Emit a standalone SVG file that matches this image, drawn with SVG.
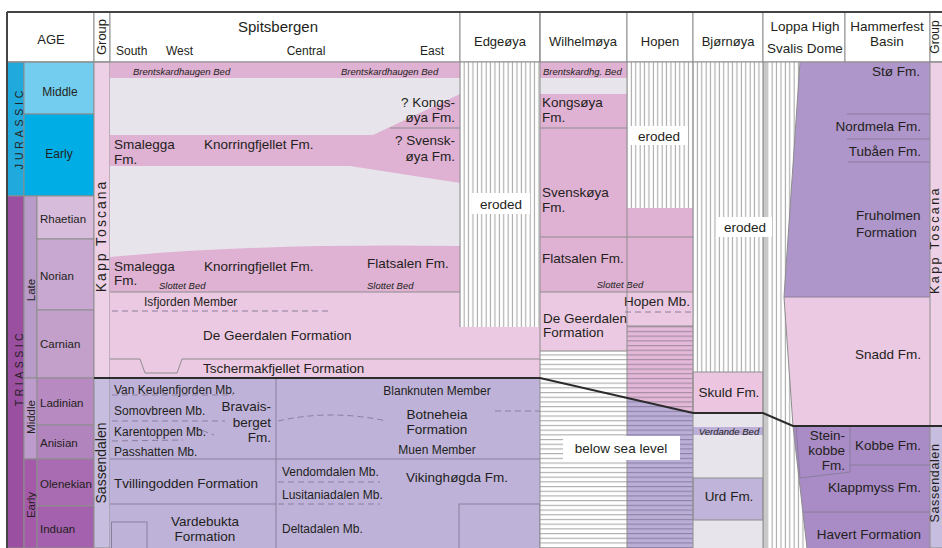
<svg xmlns="http://www.w3.org/2000/svg" width="942" height="548" viewBox="0 0 942 548">
<defs>
<style>
text{font-family:"Liberation Sans",Arial,sans-serif;fill:#231f20}
.f{font-size:13.5px}
.s{font-size:12px}
.st{font-size:11.5px}
.h{font-size:13px}
.i{font-size:9.5px;font-style:italic}
.c{text-anchor:middle}
.r{text-anchor:end}
.ln{stroke:#8d8d8d;stroke-width:1;fill:none}
.pl{stroke:#8a7e9e;stroke-width:1;fill:none}
.ds{stroke:#8a7e9e;stroke-width:1;stroke-dasharray:6 4;fill:none}
.cell{stroke:#8d8d8d;stroke-width:1}
.per{font-size:10.5px;text-anchor:middle}
</style>
<pattern id="vh" patternUnits="userSpaceOnUse" width="4.4" height="10"><rect width="4.4" height="10" fill="#fff"/><rect x="1.6" width="1.1" height="10" fill="#a9a9a9"/></pattern>
<pattern id="hh" patternUnits="userSpaceOnUse" width="10" height="4.7"><rect width="10" height="4.7" fill="#fff"/><rect y="2" width="10" height="1" fill="#a3a3a3"/></pattern>
<pattern id="hp" patternUnits="userSpaceOnUse" width="10" height="4.7"><rect width="10" height="4.7" fill="#e3b8d8"/><rect y="2" width="10" height="1" fill="#9c879c"/></pattern>
<pattern id="hl" patternUnits="userSpaceOnUse" width="10" height="4.7"><rect width="10" height="4.7" fill="#bbafd8"/><rect y="2" width="10" height="1" fill="#867c9e"/></pattern>
</defs>
<rect width="942" height="548" fill="#fff"/>

<g id="age">
<rect x="7" y="12" width="87" height="50" fill="#fff" class="cell"/>
<text x="51" y="44" class="h c">AGE</text>
<rect x="7" y="62" width="17" height="134" fill="#1fa9dd" class="cell"/>
<rect x="24" y="62" width="70" height="52" fill="#72cdee" class="cell"/>
<rect x="24" y="114" width="70" height="82" fill="#00ade4" class="cell"/>
<text x="60" y="96" class="s c">Middle</text>
<text x="59" y="158" class="s c">Early</text>
<text transform="translate(22.5,128) rotate(-90)" class="per" letter-spacing="3.8" fill="#1d3d63">JURASSIC</text>
<rect x="7" y="196" width="17" height="352" fill="#9b4fa0" class="cell"/>
<rect x="24" y="196" width="13" height="182" fill="#b99bca" class="cell"/>
<rect x="24" y="378" width="13" height="81" fill="#bd9bcc" class="cell"/>
<rect x="24" y="459" width="13" height="89" fill="#a45aa9" class="cell"/>
<text transform="translate(35,290) rotate(-90)" class="st c">Late</text>
<text transform="translate(35,417) rotate(-90)" class="st c">Middle</text>
<text transform="translate(35,505) rotate(-90)" class="st c">Early</text>
<text transform="translate(22.5,368) rotate(-90)" class="per" letter-spacing="3.5" fill="#2a1f33">TRIASSIC</text>
<rect x="37" y="196" width="57" height="43" fill="#d8bcdb" class="cell"/>
<rect x="37" y="239" width="57" height="71" fill="#c8a8d0" class="cell"/>
<rect x="37" y="310" width="57" height="68" fill="#c2a0ca" class="cell"/>
<rect x="37" y="378" width="57" height="47" fill="#b78ac1" class="cell"/>
<rect x="37" y="425" width="57" height="34" fill="#b284be" class="cell"/>
<rect x="37" y="459" width="57" height="47" fill="#a96cb2" class="cell"/>
<rect x="37" y="506" width="57" height="42" fill="#a461ad" class="cell"/>
<text x="40" y="223" class="st">Rhaetian</text>
<text x="40" y="280" class="st">Norian</text>
<text x="40" y="348" class="st">Carnian</text>
<text x="40" y="407" class="st">Ladinian</text>
<text x="40" y="447" class="st">Anisian</text>
<text x="40" y="488" class="st">Olenekian</text>
<text x="40" y="533" class="st">Induan</text>
</g>

<g id="group-left">
<rect x="94" y="12" width="16" height="50" fill="#fff" class="cell"/>
<text transform="translate(105.5,37) rotate(-90)" class="h c">Group</text>
<rect x="94" y="62" width="16" height="316" fill="#edd0e5" class="cell"/>
<rect x="94" y="378" width="16" height="170" fill="#c7bddf" class="cell"/>
<text transform="translate(106,236) rotate(-90)" class="c" font-size="14" letter-spacing="2">Kapp Toscana</text>
<text transform="translate(106,463) rotate(-90)" class="c" font-size="14">Sassendalen</text>
</g>

<g id="spitsbergen">
<rect x="110" y="12" width="350" height="50" fill="#fff" class="cell"/>
<text x="278" y="32" class="c" font-size="15">Spitsbergen</text>
<text x="116" y="55" class="s">South</text>
<text x="166" y="55" class="s">West</text>
<text x="306" y="55" class="s c">Central</text>
<text x="432" y="55" class="s c">East</text>
<rect x="110" y="62" width="350" height="16" fill="#dfb1d3"/>
<rect x="110" y="78" width="350" height="214" fill="#e7e5eb"/>
<text x="133" y="75" class="i">Brentskardhaugen Bed</text>
<text x="341" y="75" class="i">Brentskardhaugen Bed</text>
<polygon points="110,135 373,135 460,94 460,183 350,166 110,166" fill="#dfb1d3"/>
<line x1="390" y1="128" x2="460" y2="128" class="ln"/>
<text x="114" y="149" class="f">Smalegga</text>
<text x="114" y="164" class="f">Fm.</text>
<text x="204" y="149" class="f">Knorringfjellet Fm.</text>
<text x="455" y="107" class="f r">? Kongs-</text>
<text x="455" y="122" class="f r">øya Fm.</text>
<text x="455" y="145" class="f r">? Svensk-</text>
<text x="455" y="161" class="f r">øya Fm.</text>
<path d="M110,257 Q260,243 460,246 L460,292 L110,292 Z" fill="#dfb1d3"/>
<text x="114" y="271" class="f">Smalegga</text>
<text x="114" y="285" class="f">Fm.</text>
<text x="204" y="271" class="f">Knorringfjellet Fm.</text>
<text x="367" y="268" class="f">Flatsalen Fm.</text>
<text x="159" y="289" class="i">Slottet Bed</text>
<text x="367" y="289" class="i">Slottet Bed</text>
<rect x="110" y="292" width="430" height="86" fill="#ecc9e2"/>
<line x1="110" y1="292" x2="460" y2="292" class="ln"/>
<text x="144" y="306" class="s">Isfjorden Member</text>
<line x1="112" y1="311" x2="332" y2="311" class="ds" stroke="#8d8d8d"/>
<text x="203" y="340" class="f">De Geerdalen Formation</text>
<polyline points="110,359 140,359 145,373 177,373 182,359 540,359" class="ln"/>
<text x="203" y="373" class="f">Tschermakfjellet Formation</text>
<rect x="110" y="378" width="430" height="170" fill="#beb2d9"/>
<rect x="111.5" y="522" width="35.5" height="27" fill="#e7e5eb" class="pl"/>
<rect x="459" y="504" width="81" height="45" fill="#e7e5eb" class="pl"/>
<line x1="110" y1="459" x2="540" y2="459" class="pl"/>
<line x1="276" y1="378" x2="276" y2="548" class="pl"/>
<line x1="110" y1="504" x2="276" y2="504" class="pl"/>
<line x1="112" y1="395" x2="233" y2="395" class="ds"/>
<line x1="112" y1="421" x2="225" y2="421" class="ds"/>
<path d="M278,421 Q330,409 387,421" class="ds"/>
<line x1="112" y1="441" x2="183" y2="440" class="ds"/>
<line x1="193" y1="427" x2="214" y2="435" class="ds"/>
<line x1="495" y1="411" x2="540" y2="411" class="ds"/>
<line x1="278" y1="482" x2="380" y2="482" class="ds"/>
<line x1="278" y1="504" x2="380" y2="504" class="ds"/>
<text x="114" y="394" class="s">Van Keulenfjorden Mb.</text>
<text x="114" y="415" class="s">Somovbreen Mb.</text>
<text x="114" y="436" class="s">Karentoppen Mb.</text>
<text x="114" y="456" class="s">Passhatten Mb.</text>
<text x="271" y="411" class="f r">Bravais-</text>
<text x="271" y="427" class="f r">berget</text>
<text x="271" y="442" class="f r">Fm.</text>
<text x="114" y="488" class="f">Tvillingodden Formation</text>
<text x="205" y="526" class="f c">Vardebukta</text>
<text x="205" y="541" class="f c">Formation</text>
<text x="437" y="395" class="s c">Blanknuten Member</text>
<text x="437" y="419" class="f c">Botneheia</text>
<text x="437" y="434" class="f c">Formation</text>
<text x="437" y="454" class="s c">Muen Member</text>
<text x="282" y="476" class="s">Vendomdalen Mb.</text>
<text x="282" y="499" class="s">Lusitaniadalen Mb.</text>
<text x="457" y="482" class="f c">Vikinghøgda  Fm.</text>
<text x="282" y="533" class="s">Deltadalen Mb.</text>
</g>

<g id="edgeoya">
<rect x="460" y="12" width="80" height="50" fill="#fff" class="cell"/>
<text x="500" y="46" class="h c">Edgeøya</text>
<rect x="460" y="62" width="80" height="265" fill="url(#vh)"/>
<line x1="460" y1="62" x2="460" y2="327" class="ln"/>
<rect x="472" y="193" width="58" height="21" fill="#fff"/>
<text x="501" y="209" class="f c">eroded</text>
</g>

<g id="wilhelmoya">
<rect x="540" y="12" width="87" height="50" fill="#fff" class="cell"/>
<text x="583" y="46" class="h c">Wilhelmøya</text>
<rect x="540" y="62" width="87" height="16" fill="#dfb1d3"/>
<rect x="540" y="78" width="87" height="16" fill="#e7e5eb"/>
<rect x="540" y="94" width="87" height="198" fill="#dfb1d3"/>
<text x="543" y="75" class="i">Brentskardhg. Bed</text>
<line x1="540" y1="128" x2="627" y2="128" class="ln"/>
<text x="542" y="107" class="f">Kongsøya</text>
<text x="542" y="122" class="f">Fm.</text>
<text x="542" y="197" class="f">Svenskøya</text>
<text x="542" y="212" class="f">Fm.</text>
<text x="542" y="263" class="f">Flatsalen Fm.</text>
<rect x="540" y="292" width="87" height="59" fill="#ecc9e2"/>
<text x="543" y="323" class="f">De Geerdalen</text>
<text x="543" y="337" class="f">Formation</text>
<rect x="540" y="351" width="87" height="197" fill="url(#hh)"/>
<line x1="540" y1="351" x2="627" y2="351" class="ln"/>
</g>

<g id="hopen">
<rect x="627" y="12" width="66" height="50" fill="#fff" class="cell"/>
<text x="660" y="46" class="h c">Hopen</text>
<rect x="627" y="62" width="66" height="146" fill="url(#vh)"/>
<rect x="629" y="126" width="59" height="19" fill="#fff"/>
<text x="659" y="141" class="f c">eroded</text>
<rect x="627" y="208" width="66" height="84" fill="#dfb1d3"/>
<rect x="627" y="292" width="66" height="34" fill="#ecc9e2"/>
<rect x="627" y="326" width="66" height="222" fill="url(#hp)"/>
<polygon points="627,398 693,413 693,548 627,548" fill="url(#hl)"/>
<line x1="540" y1="237" x2="693" y2="237" class="ln"/>
<line x1="540" y1="292" x2="693" y2="292" class="ln"/>
<text x="620" y="288" class="i c">Slottet Bed</text>
<line x1="625" y1="312" x2="693" y2="312" class="ds" stroke="#8d8d8d"/>
<text x="657" y="306" class="f c">Hopen Mb.</text>
<line x1="627" y1="326" x2="693" y2="326" class="ln"/>
<line x1="627" y1="62" x2="627" y2="548" class="ln"/>
</g>

<g id="bjornoya">
<rect x="693" y="12" width="70" height="50" fill="#fff" class="cell"/>
<text x="728" y="46" class="h c">Bjørnøya</text>
<rect x="693" y="62" width="70" height="310" fill="url(#vh)"/>
<rect x="693" y="372" width="70" height="41" fill="#ecc6e0" class="cell"/>
<text x="729" y="397" class="f c">Skuld Fm.</text>
<rect x="693" y="413" width="70" height="135" fill="#e7e5eb"/>
<rect x="693" y="427" width="70" height="8" fill="#bcafd8"/>
<text x="729" y="435" class="i c">Verdande Bed</text>
<rect x="693" y="478" width="70" height="42" fill="#c0b4da" class="cell"/>
<text x="729" y="501" class="f c">Urd Fm.</text>
<line x1="693" y1="62" x2="693" y2="548" class="ln"/>
</g>

<g id="loppa-high">
<rect x="763" y="12" width="82" height="50" fill="#fff" class="cell"/>
<text x="805" y="31" class="c" font-size="13.5">Loppa High</text>
<text x="805" y="53" class="c" font-size="13.5">Svalis Dome</text>
<rect x="763" y="62" width="50" height="486" fill="url(#vh)"/>
<rect x="764" y="62" width="4" height="486" fill="#c9c9c9"/>
<line x1="763" y1="62" x2="763" y2="548" class="ln"/>
<rect x="717" y="217" width="55" height="20" fill="#fff"/>
<text x="745" y="232" class="f c">eroded</text>
</g>

<g id="hammerfest">
<rect x="845" y="12" width="85" height="50" fill="#fff" class="cell"/>
<text x="887" y="31" class="c" font-size="13.5">Hammerfest</text>
<text x="887" y="46" class="c" font-size="13.5">Basin</text>
<polygon points="800,62 930,62 930,297 784,297" fill="#ae95ca"/>
<polygon points="784,297 930,297 930,426 793,426" fill="#ecc9e2"/>
<polygon points="793,426 930,426 930,548 807,548" fill="#a98bc5"/>
<polygon points="796,426 850,426 850,472 800,478" fill="#c0b4da" class="pl"/>
<polyline points="800,62 784,297 793,426 807,548" class="ln" stroke="#6f6f6f"/>
<line x1="784" y1="297" x2="930" y2="297" class="pl"/>
<line x1="847" y1="114" x2="930" y2="114" class="pl"/>
<line x1="847" y1="139" x2="930" y2="139" class="pl"/>
<line x1="848" y1="162" x2="930" y2="162" class="pl"/>
<line x1="850" y1="465" x2="930" y2="465" class="pl"/>
<line x1="803" y1="512" x2="930" y2="512" class="pl"/>
<text x="920" y="76" class="f r">Stø Fm.</text>
<text x="921" y="131" class="f r">Nordmela Fm.</text>
<text x="921" y="156" class="f r">Tubåen Fm.</text>
<text x="856" y="220" class="f">Fruholmen</text>
<text x="856" y="237" class="f">Formation</text>
<text x="921" y="359" class="f r">Snadd Fm.</text>
<text x="845" y="440" class="f r">Stein-</text>
<text x="845" y="455" class="f r">kobbe</text>
<text x="845" y="470" class="f r">Fm.</text>
<text x="921" y="450" class="f r">Kobbe Fm.</text>
<text x="921" y="492" class="f r">Klappmyss Fm.</text>
<text x="921" y="539" class="f r">Havert Formation</text>
</g>

<g id="group-right">
<rect x="930" y="12" width="13" height="50" fill="#fff" class="cell"/>
<text transform="translate(939,37) rotate(-90)" class="c" font-size="12">Group</text>
<rect x="930" y="62" width="13" height="364" fill="#edd0e5" class="cell"/>
<rect x="930" y="426" width="13" height="122" fill="#c7bddf" class="cell"/>
<text transform="translate(939,240) rotate(-90)" class="c" font-size="12.5" letter-spacing="2.4">Kapp Toscana</text>
<text transform="translate(939,483) rotate(-90)" class="c" font-size="12.5" letter-spacing="0.6">Sassendalen</text>
</g>

<g id="connectors">
<line x1="540" y1="12" x2="540" y2="548" class="ln"/>
<line x1="7" y1="62" x2="942" y2="62" class="ln"/>
<polyline points="94,378 540,378 693,413 763,413 793,426 942,426" fill="none" stroke="#2b2b2b" stroke-width="2"/>
<line x1="7" y1="12" x2="942" y2="12" stroke="#444" stroke-width="2"/>
<line x1="7" y1="12" x2="7" y2="548" stroke="#444" stroke-width="2"/>
</g>

<g id="label-overlay">
<rect x="563" y="436" width="117" height="24" fill="#fff"/>
<text x="621" y="453" class="f c">below sea level</text>
</g>
</svg>
